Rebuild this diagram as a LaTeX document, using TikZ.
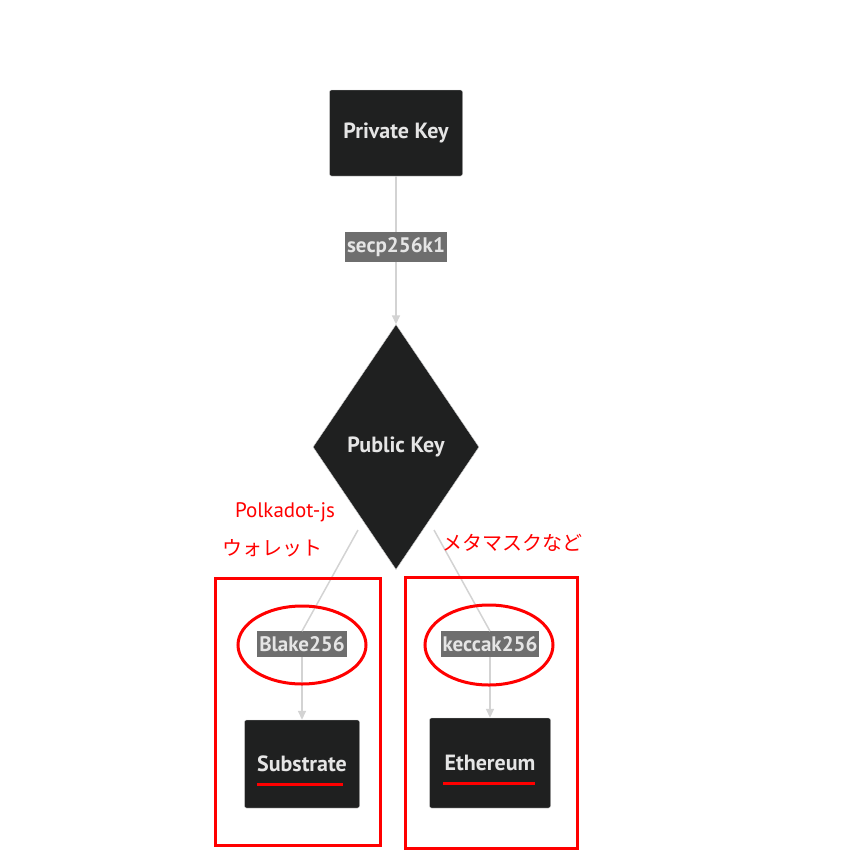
\documentclass[tikz,border=0pt]{standalone}
\usepackage{fontspec}
\setmainfont{Open Sans}
\newfontfamily\cnd{PT Sans}
\newfontfamily\cjk{Noto Sans CJK JP}
\usetikzlibrary{shapes.geometric,arrows.meta}
\definecolor{dk}{HTML}{1F2020}
\definecolor{lbl}{HTML}{6E6E6E}
\definecolor{ln}{HTML}{D3D3D3}
\tikzset{
 box/.style={draw=ln,fill=dk,text=white!90!black,rounded corners=2pt,font=\cnd\bfseries\fontsize{22}{24}\selectfont},
 elab/.style={fill=lbl,text=white!90!black,inner xsep=2pt,inner ysep=5pt,font=\cnd\bfseries\fontsize{21}{24}\selectfont},
 conn/.style={draw=ln,line width=1.5pt,-{Triangle[length=9pt,width=8pt]}},
 plain/.style={draw=ln,line width=1.5pt},
 redbox/.style={draw=red,line width=3pt},
 redtxt/.style={text=red,font=\fontsize{19}{22}\selectfont}
}
\begin{document}
\begin{tikzpicture}[x=1pt,y=-1pt]
\useasboundingbox (0,0) rectangle (868,868);
\node[box,minimum width=133pt,minimum height=86pt] (pk) at (396,133) {Private Key};
\node[box,diamond,rounded corners=0pt,minimum width=166pt,minimum height=245pt,inner sep=0pt] (pub) at (396,447) {Public Key};
\node[elab] (secp) at (396,247) {secp256k1};
\draw[plain] (pk.south) -- (secp.north);
\draw[conn] (secp.south) -- (pub.north);
\node[elab] (bl) at (302,644) {Blake256};
\node[elab] (kc) at (490,644) {keccak256};
\node[box,minimum width=115pt,minimum height=88pt] (sub) at (302,764) {Substrate};
\node[box,minimum width=121pt,minimum height=90pt] (eth) at (490,763) {Ethereum};
\coordinate (dl) at (358,530);
\coordinate (dr) at (434,530);
\draw[plain] (dl) -- (bl.north);
\draw[plain] (dr) -- (kc.north);
\draw[conn] (bl.south) -- (sub.north);
\draw[conn] (kc.south) -- (eth.north);
\draw[redbox] (215,578) rectangle (380,845);
\draw[redbox] (405,577) rectangle (577,848);
\draw[redbox] (302,645) ellipse (64 and 39);
\draw[redbox] (489,645) ellipse (64 and 40);
\draw[red,line width=3pt] (257,784) -- (343,784);
\draw[red,line width=3pt] (443,783) -- (535,783);
\node[redtxt,font=\cnd\fontsize{21}{24}\selectfont] (t1) at (285,512) {Polkadot-js};
\node[redtxt,font=\cjk\fontsize{20}{24}\selectfont] (t2) at (272,548) {ウォレット};
\node[redtxt,font=\cjk\fontsize{20}{24}\selectfont] (t3) at (512,543) {メタマスクなど};
\end{tikzpicture}
\end{document}
